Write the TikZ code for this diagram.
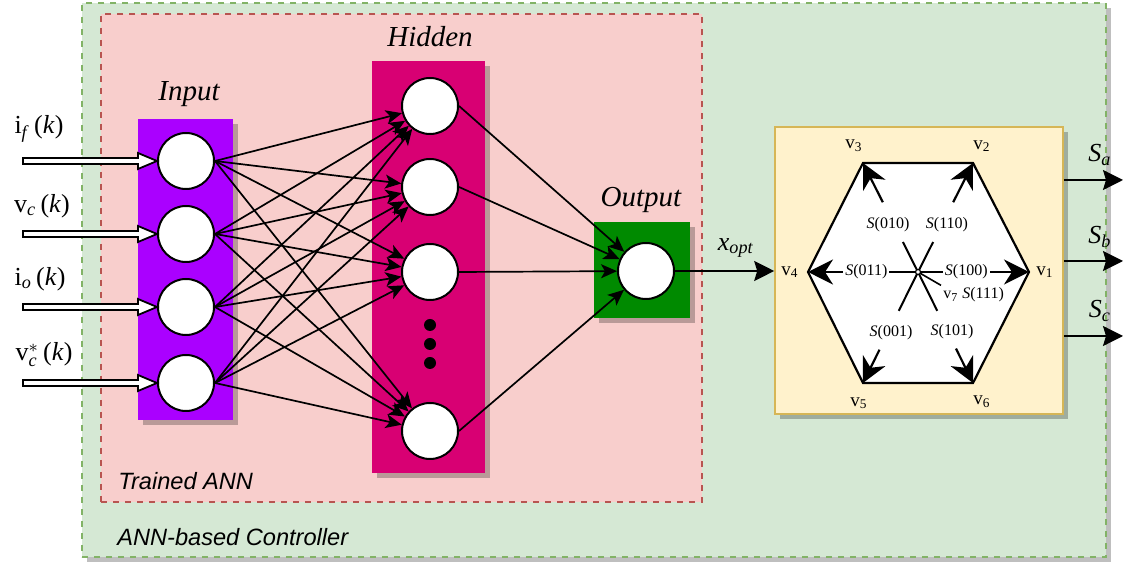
\documentclass[tikz,border=0pt]{standalone}
\usepackage{fontspec}
\usepackage{amsmath}
\setmainfont{Liberation Serif}
\newfontfamily\lsans{Liberation Sans}
\usetikzlibrary{arrows.meta,calc,shadows}
\definecolor{gfill}{HTML}{D5E8D4}
\definecolor{gdraw}{HTML}{82B366}
\definecolor{pfill}{HTML}{F8CECC}
\definecolor{pdraw}{HTML}{B85450}
\definecolor{purp}{HTML}{AA00FF}
\definecolor{magen}{HTML}{D80073}
\definecolor{ogreen}{HTML}{008A00}
\definecolor{yfill}{HTML}{FFF2CC}
\definecolor{ydraw}{HTML}{D6B656}
\begin{document}
\begin{tikzpicture}[x=0.5pt,y=-0.5pt,
  shad/.style={drop shadow={shadow xshift=2.5pt,shadow yshift=-2.5pt,opacity=0.25,fill=black}},
  panel/.style={rectangle,inner sep=0pt,shad},
  neuron/.style={circle,draw,fill=white,minimum size=28pt,inner sep=0pt,line width=1pt},
  dotn/.style={circle,fill=black,minimum size=6pt,inner sep=0pt},
  nnarr/.style={-{Stealth[length=8pt,width=7pt,inset=2pt]},line width=0.85pt},
  hexarr/.style={-{Stealth[length=12.5pt,width=12.5pt,inset=4pt]},line width=1.1pt},
  outarr/.style={-{Stealth[length=10pt,width=10pt,inset=1.5pt]},line width=0.9pt},
  dblarr/.style={draw,fill=white,line width=0.9pt,line join=miter},
  hdr/.style={font=\fontsize{14.5}{17}\selectfont\itshape},
  inlbl/.style={font=\fontsize{13}{15}\selectfont},
  hexlbl/.style={font=\fontsize{8}{9.5}\selectfont,inner sep=1pt},
  vlbl/.style={font=\fontsize{9.5}{11}\selectfont,inner sep=1pt},
  slbl/.style={font=\fontsize{13}{15}\selectfont},
  sanslbl/.style={font=\fontsize{11.8}{14}\selectfont\lsans\itshape,anchor=west,inner sep=0pt}
]
\useasboundingbox (0,0) rectangle (1124,565);

% panels
\node[panel,fill=gfill,draw=gdraw,dashed,line width=0.6pt,minimum width=512pt,minimum height=277pt] (ctrl) at (594,280) {};
\node[rectangle,inner sep=0pt,fill=pfill,draw=pdraw,dashed,line width=0.6pt,minimum width=300.5pt,minimum height=244pt] (ann) at (401.5,258) {};
\node[panel,fill=purp,minimum width=47.5pt,minimum height=150.5pt] (inbox) at (185.5,269.5) {};
\node[panel,fill=magen,minimum width=56.5pt,minimum height=206pt] (hidbox) at (428.5,267) {};
\node[panel,fill=ogreen,minimum width=48pt,minimum height=48pt] (outbox) at (642,270) {};
\node[panel,fill=yfill,draw=ydraw,line width=0.8pt,minimum width=144pt,minimum height=143.5pt] (hexbox) at (919,270.5) {};

% texts of panels
\node[hdr] (tin) at (189,94) {Input};
\node[hdr] (thid) at (430,37) {Hidden};
\node[hdr] (tout) at (641,200) {Output};
\node[sanslbl] (tann) at (118,481) {Trained ANN};
\node[sanslbl] (tctrl) at (117,537) {ANN-based Controller};

% neurons
\node[neuron] (i1) at (186,161) {};
\node[neuron] (i2) at (186,234) {};
\node[neuron] (i3) at (186,307) {};
\node[neuron] (i4) at (186,383) {};
\node[neuron] (h1) at (430,106) {};
\node[neuron] (h2) at (430,187) {};
\node[neuron] (h3) at (430,272) {};
\node[neuron] (h4) at (430,431) {};
\node[dotn] (d1) at (430,325) {};
\node[dotn] (d2) at (430,344) {};
\node[dotn] (d3) at (430,363) {};
\node[neuron] (o) at (646,271) {};

\foreach \i in {1,...,4}{
  \foreach \h in {1,...,4}{
    \draw[nnarr] (i\i.east) -- (h\h);
  }
}
\foreach \h in {1,...,4}{ \draw[nnarr] (h\h.east) -- (o); }

% input double arrows
\foreach \i in {1,...,4}{
  \draw[dblarr] (i\i.west) -- ++(-19,-8) -- ++(0,5) -- ++(-115,0) -- ++(0,6) -- ++(115,0) -- ++(0,5) -- cycle;
}
\node[inlbl] (lf) at (39,129) {i\textsubscript{\textit{f}}\,(\textit{k})};
\node[inlbl] (lvc) at (42,206) {v\textsubscript{\textit{c}}\,(\textit{k})};
\node[inlbl] (lio) at (40,279) {i\textsubscript{\textit{o}}\,(\textit{k})};
\node[inlbl] (lvs) at (44,355) {v$^{*}_{\text{\itshape c}}$\,(\textit{k})};

% x_opt
\draw[outarr] (o.east) -- (o.east -| hexbox.west);
\node[slbl] (xo) at (736,248) {\textit{x}\textsubscript{\textit{opt}}};

% outputs S
\coordinate (ea) at (1123,180);
\coordinate (eb) at (1123,261);
\coordinate (ec) at (1123,336);
\draw[outarr] (ea -| hexbox.east) -- (ea);
\draw[outarr] (eb -| hexbox.east) -- (eb);
\draw[outarr] (ec -| hexbox.east) -- (ec);
\node[slbl] (sa) at (1100,155) {\textit{S}\textsubscript{\textit{a}}};
\node[slbl] (sb) at (1100,237) {\textit{S}\textsubscript{\textit{b}}};
\node[slbl] (sc) at (1100,311) {\textit{S}\textsubscript{\textit{c}}};

% hexagon
\coordinate (c) at (918,272);
\coordinate (v1) at (1029,272);
\coordinate (v2) at (973,163);
\coordinate (v3) at (863,163);
\coordinate (v4) at (808,272);
\coordinate (v5) at (863,383);
\coordinate (v6) at (973,383);
\draw[line width=1.1pt,fill=white,line join=miter] (v1) -- (v2) -- (v3) -- (v4) -- (v5) -- (v6) -- cycle;

\draw[hexarr] (c) -- node[hexlbl,fill=white,pos=0.435] (s100) {\textit{S}(100)} (v1);
\draw[hexarr] (c) -- node[hexlbl,fill=white,pos=0.47] (s011) {\textit{S}(011)} (v4);
\draw[line width=1pt] (c) -- ($(c)!0.275!(v3)$);
\draw[hexarr] ($(c)!0.64!(v3)$) -- (v3);
\draw[line width=1pt] (c) -- ($(c)!0.275!(v2)$);
\draw[hexarr] ($(c)!0.64!(v2)$) -- (v2);
\draw[line width=1pt] (c) -- ($(c)!0.35!(v5)$);
\draw[hexarr] ($(c)!0.70!(v5)$) -- (v5);
\draw[line width=1pt] (c) -- ($(c)!0.35!(v6)$);
\draw[hexarr] ($(c)!0.69!(v6)$) -- (v6);
\node[hexlbl] (s010) at (888,225) {\textit{S}(010)};
\node[hexlbl] (s110) at (947,225) {\textit{S}(110)};
\node[hexlbl] (s001) at (891,333) {\textit{S}(001)};
\node[hexlbl] (s101) at (952,332) {\textit{S}(101)};
\node[hexlbl,anchor=west] (s111) at (941,295) {v\textsubscript{7} \textit{S}(111)};
\draw[line width=0.8pt] (c) -- (s111.north west);
\node[circle,draw,fill=white,line width=0.6pt,minimum size=2.5pt,inner sep=0pt] (cc) at (c) {};

\node[vlbl] (l1) at (1045,272) {v\textsubscript{1}};
\node[vlbl] (l2) at (982,146) {v\textsubscript{2}};
\node[vlbl] (l3) at (854,146) {v\textsubscript{3}};
\node[vlbl] (l4) at (790,272) {v\textsubscript{4}};
\node[vlbl] (l5) at (859,403) {v\textsubscript{5}};
\node[vlbl] (l6) at (982,402) {v\textsubscript{6}};
\end{tikzpicture}
\end{document}
